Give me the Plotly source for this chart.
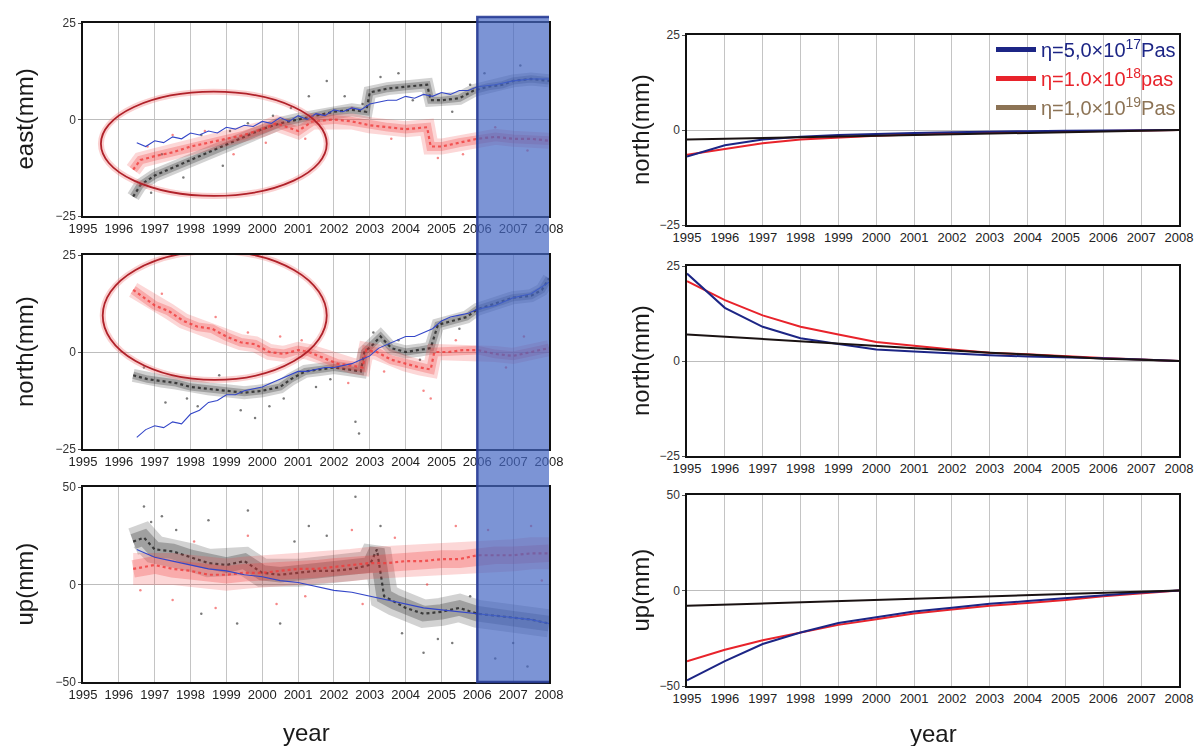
import plotly.graph_objects as go
from plotly.subplots import make_subplots

east_black_x = [1996.4, 1996.6, 1997.0, 1997.5, 1998.0, 1998.5, 1999.0, 1999.5, 2000.0, 2000.5, 2001.0,
                2001.5, 2002.0, 2002.5, 2002.9, 2003.0, 2003.5, 2004.0, 2004.6, 2004.7, 2005.0, 2005.5,
                2005.9, 2006.3, 2006.7, 2007.0, 2007.5, 2008.0]
east_black_y = [-20, -17, -14.5, -12.5, -10.5, -8.5, -6.5, -4.5, -2.5, -1, 0,
                1, 2, 2.5, 2, 7, 8, 8.5, 9, 5, 5, 5.5,
                7.5, 8.5, 9, 10, 10.5, 10]
east_red_x = [1996.4, 1996.6, 1997.0, 1997.5, 1998.0, 1998.5, 1999.0, 1999.5, 2000.0, 2000.4, 2000.7,
              2001.0, 2001.4, 2002.0, 2002.5, 2003.0, 2003.5, 2004.0, 2004.6, 2004.7, 2005.0, 2005.5,
              2006.0, 2006.5, 2007.0, 2007.5, 2008.0]
east_red_y = [-13, -10.5, -9.5, -8.5, -7, -6, -5, -4, -2.5, -1, -2,
              -3, -0.5, 0, -0.5, -1.5, -2, -2.5, -2, -7, -7, -6,
              -5, -4.5, -5, -5, -5.5]
east_blue_x = [1996.5, 1996.75, 1997, 1997.25, 1997.5, 1997.75, 1998, 1998.25, 1998.5, 1998.75, 1999,
               1999.25, 1999.5, 1999.75, 2000, 2000.25, 2000.5, 2000.75, 2001, 2001.25, 2001.5, 2001.75,
               2002, 2002.25, 2002.5, 2002.75, 2003, 2003.25, 2003.5, 2003.75, 2004, 2004.25, 2004.5,
               2004.75, 2005, 2005.25, 2005.5, 2005.75, 2006, 2006.5, 2007, 2007.5, 2008]
east_blue_y = [-6, -7, -5.5, -6, -4.5, -5, -3.5, -4, -3, -3.5, -2,
               -2.5, -1.5, -1.8, -0.5, -1, 0.5, -0.5, 1, 0, 1.5, 1,
               2.5, 2, 3, 2.5, 4, 4.5, 5, 5, 6, 5.5, 6.5,
               6, 7, 6.5, 7.5, 7.5, 8.5, 9, 10, 10.5, 10.5]
east_black_out_x = [1997.2, 1998.3, 1999.6, 2001.3, 2001.8, 2002.3, 2003.8, 2005.8, 2007.2, 2000.8, 1998.9,
                    1996.9, 2005.3, 1997.8, 1999.1, 2000.3, 2002.8, 2003.3, 2004.2, 2006.2]
east_black_out_y = [-9, -4, -1, 6, 10, 6, 12, 9, 14, 3, -12,
                    -19, 2, -15, -3, 1, 4, 11, 5, 12]
east_red_out_x = [1997.5, 1999.2, 2002.5, 2004.9, 2006.5, 2001.2, 2003.6, 1996.8, 1998.4, 2000.1, 2005.6, 2007.4]
east_red_out_y = [-4, -9, 3, -10, -2, -5, -5, -7, -3, -6, -9, -8]

north_black_x = [1996.4, 1996.8, 1997.2, 1997.6, 1998.0, 1998.5, 1999.0, 1999.5, 2000.0, 2000.5, 2000.8,
                 2001.2, 2001.6, 2002.0, 2002.4, 2002.75, 2002.85, 2003.1, 2003.3, 2003.6, 2004.0, 2004.4,
                 2004.7, 2004.9, 2005.3, 2005.7, 2006.0, 2006.5, 2007.0, 2007.5, 2007.8, 2008.0]
north_black_y = [-6, -7, -7.5, -8, -9, -9.5, -10, -10.5, -10, -9, -7,
                 -5, -4.5, -4, -4.5, -5, 0, 2, 4, 1, 0, 0.5,
                 1, 7, 8, 9, 11, 12.5, 14, 14.5, 16, 19]
north_red_x = [1996.4, 1996.7, 1997.0, 1997.4, 1997.8, 1998.2, 1998.6, 1999.0, 1999.4, 1999.8, 2000.2,
               2000.6, 2001.0, 2001.3, 2001.7, 2002.1, 2002.5, 2002.8, 2002.9, 2003.2, 2003.6, 2004.0,
               2004.4, 2004.7, 2004.8, 2005.2, 2005.6, 2006.0, 2006.5, 2007.0, 2007.5, 2008.0]
north_red_y = [16, 14, 12, 10.5, 8, 6.5, 6, 4, 2.5, 2, 0,
               -0.5, 0.5, 0, -1.5, -3, -3.5, -4, 0.5, 0, -2, -3,
               -4, -4.5, 0, 0, 0.5, 0.5, -0.5, -1, 0, 1]
north_blue_x = [1996.5, 1996.75, 1997, 1997.25, 1997.5, 1997.75, 1998, 1998.25, 1998.5, 1998.75, 1999,
                1999.25, 1999.5, 1999.75, 2000, 2000.25, 2000.5, 2000.75, 2001, 2001.25, 2001.5, 2001.75,
                2002, 2002.25, 2002.5, 2002.75, 2003, 2003.25, 2003.5, 2003.75, 2004, 2004.25, 2004.5,
                2004.75, 2005, 2005.25, 2005.5, 2005.75, 2006, 2006.5, 2007, 2007.5, 2008]
north_blue_y = [-22, -20, -19, -19.5, -18, -18.5, -16, -15, -13, -12.5, -11,
                -11, -10, -9.5, -9, -8, -7, -6, -5, -5, -4.5, -4,
                -4, -3.5, -3, -2, -1, 1, 2, 3, 4, 4, 5,
                6, 8, 9, 9.5, 10, 11, 12, 14, 15, 18]
north_black_out_x = [1997.3, 1998.2, 1999.4, 2000.2, 2002.6, 2002.7, 1999.8, 2003.1, 2001.5, 1996.7,
                     1997.9, 1998.8, 2000.6, 2001.9, 2003.8, 2004.4, 2005.5]
north_black_out_y = [-13, -14, -15, -14, -18, -21, -17, 5, -9, -4,
                     -12, -6, -12, -7, 3, -2, 6]
north_red_out_x = [1998.7, 2000.5, 2002.4, 2004.5, 2004.7, 2006.8, 2007.3, 1997.2, 1999.6, 2001.1, 2003.4, 2005.4]
north_red_out_y = [9, 4, -8, -10, -12, -4, 4, 15, 5, 3, -5, 3]

up_black_x = [1996.4, 1996.7, 1997.0, 1997.5, 1998.0, 1998.5, 1999.0, 1999.5, 2000.0, 2000.5, 2001.0,
              2001.5, 2002.0, 2002.5, 2003.0, 2003.2, 2003.4, 2003.7, 2004.0, 2004.5, 2005.0, 2005.5,
              2006.0, 2006.5, 2007.0, 2007.5, 2008.0]
up_black_y = [22, 24, 18, 17, 14, 11, 10, 12, 6, 5, 6,
              7, 7, 8, 10, 18, -6, -9, -12, -15, -14, -12,
              -15, -16, -17, -18, -20]
up_red_x = [1996.4, 1997.0, 1997.5, 1998.0, 1998.5, 1999.0, 1999.5, 2000.0, 2000.5, 2001.0, 2001.5,
            2002.0, 2002.5, 2003.0, 2003.5, 2004.0, 2004.5, 2005.0, 2005.5, 2006.0, 2006.5, 2007.0,
            2007.5, 2008.0]
up_red_y = [8, 10, 8, 7, 5, 5, 6, 6, 7, 8, 8,
            9, 10, 11, 11, 12, 12, 13, 13, 15, 15, 15,
            16, 16]
up_blue_x = [1996.5, 1997, 1997.5, 1998, 1998.5, 1999, 1999.5, 2000, 2000.5, 2001, 2001.5, 2002,
             2002.5, 2003, 2003.5, 2004, 2004.5, 2005, 2005.5, 2006, 2006.5, 2007, 2007.5, 2008]
up_blue_y = [18, 14, 12, 10, 8, 7, 5, 4, 2, 1, -1, -3,
             -4, -6, -8, -10, -12, -13, -14, -15, -16, -17, -18, -20]
up_black_out_x = [1996.7, 1997.2, 1998.5, 1999.6, 2001.3, 2002.6, 1998.3, 1999.3, 2004.5, 2005.3, 2000.5,
                  2006.5, 2007.4, 2003.3, 1996.9, 1997.6, 2000.9, 2001.8, 2003.9, 2004.9, 2005.8, 2007.0]
up_black_out_y = [40, 35, 33, 38, 30, 45, -15, -20, -35, -30, -20,
                  -38, -42, 30, 32, 28, 22, 25, -25, -28, -6, -30]
up_red_out_x = [1997.5, 1998.7, 2000.4, 2002.5, 2005.4, 2007.5, 1999.6, 2002.8, 1996.6, 1998.1, 2001.2,
                2003.7, 2004.6, 2006.3, 2007.8]
up_red_out_y = [-8, -12, -10, 28, 30, 30, 25, -10, -3, 22, -6,
                24, 0, 28, 2]

# ---- model curves (right column) ----
years = [1995, 1996, 1997, 1998, 1999, 2000, 2001, 2002, 2003, 2004, 2005, 2006, 2007, 2008]
m_east_5e17 = [-7, -4, -2.5, -1.8, -1.3, -1, -0.8, -0.6, -0.4, -0.3, -0.2, -0.1, -0.05, 0]
m_east_1e18 = [-6.5, -5, -3.5, -2.5, -2, -1.5, -1.2, -0.9, -0.7, -0.5, -0.4, -0.2, -0.1, 0]
m_east_1e19 = [-2.5, -2.3, -2.1, -1.9, -1.7, -1.5, -1.3, -1.1, -0.9, -0.7, -0.5, -0.3, -0.15, 0]
m_north_5e17 = [23, 14, 9, 6, 4.5, 3, 2.5, 2, 1.5, 1.2, 1, 0.7, 0.4, 0]
m_north_1e18 = [21, 16, 12, 9, 7, 5, 4, 3, 2.2, 1.7, 1.2, 0.8, 0.4, 0]
m_north_1e19 = [7, 6.4, 5.8, 5.2, 4.5, 4, 3.4, 2.8, 2.2, 1.7, 1.1, 0.6, 0.3, 0]
m_up_5e17 = [-47, -37, -28, -22, -17, -14, -11, -9, -7, -5.5, -4, -2.5, -1, 0]
m_up_1e18 = [-37, -31, -26, -22, -18, -15, -12, -10, -8, -6.5, -5, -3, -1.5, 0]
m_up_1e19 = [-8, -7.4, -6.8, -6.2, -5.6, -5, -4.4, -3.8, -3.2, -2.6, -2, -1.4, -0.8, 0]

legend_names = ["η=5,0×10<sup>17</sup>Pas", "η=1.0×10<sup>18</sup>pas", "η=1,0×10<sup>19</sup>Pas"]
legend_colors = ["#1c2585", "#e8232b", "#8c7355"]

BLUE, RED, DARK = "#1c2585", "#e8232b", "#1a1212"

fig = make_subplots(rows=3, cols=2)


def cloud(x, y, ox, oy, color, width, row):
    # diffuse band, denser middle, dotted core and a few stray points
    for w, op in ((width, 0.2), (width * 0.55, 0.28)):
        fig.add_trace(go.Scatter(x=x, y=y, mode="lines", line=dict(color=color, width=w),
                                 opacity=op, showlegend=False, hoverinfo="skip"), row=row, col=1)
    fig.add_trace(go.Scatter(x=x, y=y, mode="lines", line=dict(color=color, width=2.2, dash="dot"),
                             opacity=0.8, showlegend=False, hoverinfo="skip"), row=row, col=1)
    fig.add_trace(go.Scatter(x=ox, y=oy, mode="markers", marker=dict(color=color, size=2.5),
                             opacity=0.6, showlegend=False, hoverinfo="skip"), row=row, col=1)


def thin(x, y, row):
    fig.add_trace(go.Scatter(x=x, y=y, mode="lines", line=dict(color="#3346c8", width=1.1),
                             showlegend=False, hoverinfo="skip"), row=row, col=1)


cloud(east_black_x, east_black_y, east_black_out_x, east_black_out_y, "#222222", 13, 1)
cloud(east_red_x, east_red_y, east_red_out_x, east_red_out_y, "#f03a3a", 16, 1)
thin(east_blue_x, east_blue_y, 1)
cloud(north_black_x, north_black_y, north_black_out_x, north_black_out_y, "#222222", 13, 2)
cloud(north_red_x, north_red_y, north_red_out_x, north_red_out_y, "#f03a3a", 16, 2)
thin(north_blue_x, north_blue_y, 2)
cloud(up_black_x, up_black_y, up_black_out_x, up_black_out_y, "#222222", 28, 3)
cloud(up_red_x, up_red_y, up_red_out_x, up_red_out_y, "#f03a3a", 32, 3)
thin(up_blue_x, up_blue_y, 3)

models = [(m_east_5e17, m_east_1e18, m_east_1e19),
          (m_north_5e17, m_north_1e18, m_north_1e19),
          (m_up_5e17, m_up_1e18, m_up_1e19)]
for r, (a, b, c) in enumerate(models, start=1):
    for ys, col in ((b, RED), (a, BLUE), (c, DARK)):
        fig.add_trace(go.Scatter(x=years, y=ys, mode="lines", line=dict(color=col, width=2),
                                 showlegend=False, hoverinfo="skip"), row=r, col=2)

# legend-only entries
for name, col in zip(legend_names, legend_colors):
    fig.add_trace(go.Scatter(x=[None], y=[None], mode="lines", line=dict(color=col, width=5),
                             name="<span style='color:%s'>%s</span>" % (col, name)), row=1, col=2)

W, H = 1203, 746
xdom_left = [83 / W, 549 / W]
xdom_right = [687 / W, 1179 / W]
ydoms = {1: (23, 216), 2: (35, 225), 3: (255, 449), 4: (266, 456), 5: (487, 682), 6: (495, 686)}

tick_years = list(range(1995, 2009))
for i in range(1, 7):
    top, bot = ydoms[i]
    xd = xdom_left if i % 2 == 1 else xdom_right
    big = i >= 5
    fig.layout["xaxis%d" % i if i > 1 else "xaxis"].update(
        domain=xd, range=[1995, 2008], tickvals=tick_years, ticktext=[str(t) for t in tick_years],
        showgrid=True, gridcolor="#c4c4c4", gridwidth=1, zeroline=False, automargin=False,
        showline=True, linecolor="#111", linewidth=1.5, mirror=True,
        ticks="", tickfont=dict(size=13, color="#222", family="Liberation Sans"))
    fig.layout["yaxis%d" % i if i > 1 else "yaxis"].update(
        domain=[1 - bot / H, 1 - top / H], range=[-50, 50] if big else [-25, 25],
        tickvals=[-50, 0, 50] if big else [-25, 0, 25], automargin=False,
        showgrid=False, zeroline=True, zerolinecolor="#bdbdbd", zerolinewidth=1,
        showline=True, linecolor="#111", linewidth=1.5, mirror=True,
        ticks="outside", ticklen=3, tickcolor="#555",
        tickfont=dict(size=12, color="#333", family="Liberation Sans"))

shapes = []
# red ellipses with soft halo
for xref, yref, (x0, x1, y0, y1) in (("x", "y", (1995.5, 2001.8, -19.8, 7.2)),
                                     ("x3", "y3", (1995.55, 2001.8, -7.2, 26))):
    shapes.append(dict(type="circle", xref=xref, yref=yref, x0=x0, x1=x1, y0=y0, y1=y1,
                       line=dict(color="rgba(240,120,120,0.35)", width=6), layer="above"))
    shapes.append(dict(type="circle", xref=xref, yref=yref, x0=x0, x1=x1, y0=y0, y1=y1,
                       line=dict(color="#b0222a", width=1.8), layer="above"))
# shaded 2006-2008 window across the left column
shapes.append(dict(type="rect", xref="x", yref="paper", x0=2006, x1=2008.07, y0=1 - 682 / H, y1=1 - 17 / H,
                   fillcolor="rgba(68,102,195,0.7)", line=dict(color="rgba(40,60,150,0.9)", width=2.5),
                   layer="above"))

ann = []
tfont = dict(size=24, color="#1a1a1a", family="Liberation Sans")
for label, xpx, top, bot in (("east(mm)", 24, 23, 216), ("north(mm)", 24, 255, 449), ("up(mm)", 24, 487, 682),
                             ("north(mm)", 640, 35, 225), ("north(mm)", 640, 266, 456), ("up(mm)", 640, 495, 686)):
    ann.append(dict(text=label, x=xpx / W, y=1 - (top + bot) / 2 / H, xref="paper", yref="paper",
                    textangle=-90, showarrow=False, font=tfont, xanchor="center", yanchor="middle"))
ann.append(dict(text="year", x=306 / W, y=1 - 732 / H, xref="paper", yref="paper", showarrow=False,
                font=tfont, xanchor="center", yanchor="middle"))
ann.append(dict(text="year", x=933 / W, y=1 - 733 / H, xref="paper", yref="paper", showarrow=False,
                font=tfont, xanchor="center", yanchor="middle"))

fig.update_layout(
    width=W, height=H, margin=dict(l=0, r=0, t=0, b=0, autoexpand=False),
    paper_bgcolor="white", plot_bgcolor="white",
    shapes=shapes, annotations=ann,
    legend=dict(x=1181 / W, xanchor="right", y=1 - 30 / H, yanchor="top", bgcolor="rgba(0,0,0,0)",
                font=dict(size=20, family="Liberation Sans"), tracegroupgap=0, itemwidth=40),
    font=dict(family="Liberation Sans"),
)

# drop the default page margin so the figure sits at the window's corner
fig.write_html("out.html", config={"displayModeBar": False},
               post_script="document.body.style.margin='0';")
